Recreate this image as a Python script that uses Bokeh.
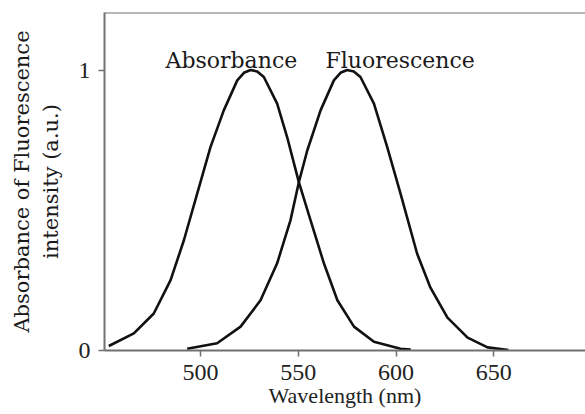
from bokeh.plotting import figure
from bokeh.models import Range1d, FixedTicker, Label, Span, ColumnDataSource
from bokeh.embed import file_html
from bokeh.resources import INLINE

# Data
abs_wavelength = [453.1, 465.9, 476.1, 484.7, 491.5, 498.3, 505.1, 511.9, 518.8, 522.2,
                  525.6, 529.0, 532.4, 539.2, 544.3, 550.3, 556.3, 563.1, 570.0, 578.5,
                  588.7, 602.3, 607.5]
abs_value = [0.016, 0.061, 0.132, 0.251, 0.393, 0.559, 0.725, 0.856, 0.963, 0.990,
             1.000, 0.995, 0.975, 0.880, 0.761, 0.600, 0.464, 0.311, 0.179, 0.085,
             0.031, 0.006, 0.003]

flu_wavelength = [493.2, 508.5, 520.5, 530.7, 539.2, 546.0, 550.3, 554.6, 561.4, 568.2,
                  571.6, 575.0, 578.4, 581.8, 588.7, 595.5, 602.3, 610.8, 617.6, 626.3,
                  636.6, 646.8, 657.5]
flu_value = [0.006, 0.026, 0.085, 0.179, 0.311, 0.464, 0.600, 0.713, 0.856, 0.963,
             0.990, 1.000, 0.995, 0.975, 0.880, 0.725, 0.559, 0.345, 0.224, 0.117,
             0.046, 0.011, 0.002]

x_ticks = [500, 550, 600, 650]
y_ticks = [0, 1]
X_MIN, X_MAX = 450.9, 696.9
Y_MIN, Y_MAX = 0.0, 1.205

p = figure(width=585, height=414, output_backend="svg", toolbar_location=None,
           x_range=Range1d(X_MIN, X_MAX), y_range=Range1d(Y_MIN, Y_MAX),
           min_border_left=104, min_border_right=0, min_border_top=12, min_border_bottom=64)
p.outline_line_color = None
p.grid.visible = False
p.background_fill_color = "white"
p.border_fill_color = "white"

src_a = ColumnDataSource(dict(x=abs_wavelength, y=abs_value))
src_f = ColumnDataSource(dict(x=flu_wavelength, y=flu_value))
p.line("x", "y", source=src_a, line_color="#111111", line_width=2.6, line_join="round")
p.line("x", "y", source=src_f, line_color="#111111", line_width=2.6, line_join="round")

axis_color = "#707070"
for ax in (p.xaxis[0], p.yaxis[0]):
    ax.axis_line_color = axis_color
    ax.axis_line_width = 2
    ax.major_tick_line_color = axis_color
    ax.major_tick_line_width = 1.5
    ax.major_tick_out = 6
    ax.major_tick_in = 0
    ax.minor_tick_line_color = None
    ax.major_label_text_font = "Liberation Serif"
    ax.major_label_text_font_size = "24px"
    ax.major_label_text_color = "#222222"

p.xaxis.ticker = FixedTicker(ticks=x_ticks)
p.yaxis.ticker = FixedTicker(ticks=y_ticks)
p.xaxis.major_label_standoff = 8
p.yaxis.major_label_standoff = 8

p.xaxis.axis_label = "Wavelength (nm)"
p.xaxis.axis_label_text_font = "Liberation Serif"
p.xaxis.axis_label_text_font_size = "22px"
p.xaxis.axis_label_text_font_style = "normal"
p.xaxis.axis_label_text_color = "#222222"
p.xaxis.axis_label_standoff = 0

p.yaxis.axis_label = "Absorbance of Fluorescence\nintensity (a.u.)"
p.yaxis.axis_label_text_font = "DejaVu Serif"
p.yaxis.axis_label_text_font_size = "21px"
p.yaxis.axis_label_text_font_style = "normal"
p.yaxis.axis_label_text_color = "#1a1a1a"
p.yaxis.axis_label_standoff = 13

p.add_layout(Span(location=Y_MAX, dimension="width", line_color=axis_color, line_width=2))

p.add_layout(Label(x=482.1, y=1.034, text="Absorbance", text_font="DejaVu Serif",
                   text_font_size="22px", text_color="#1a1a1a", text_align="left",
                   text_baseline="alphabetic"))
p.add_layout(Label(x=563.9, y=1.034, text="Fluorescence", text_font="DejaVu Serif",
                   text_font_size="22px", text_color="#1a1a1a", text_align="left",
                   text_baseline="alphabetic"))

open("out.html", "w").write(file_html(p, INLINE))
